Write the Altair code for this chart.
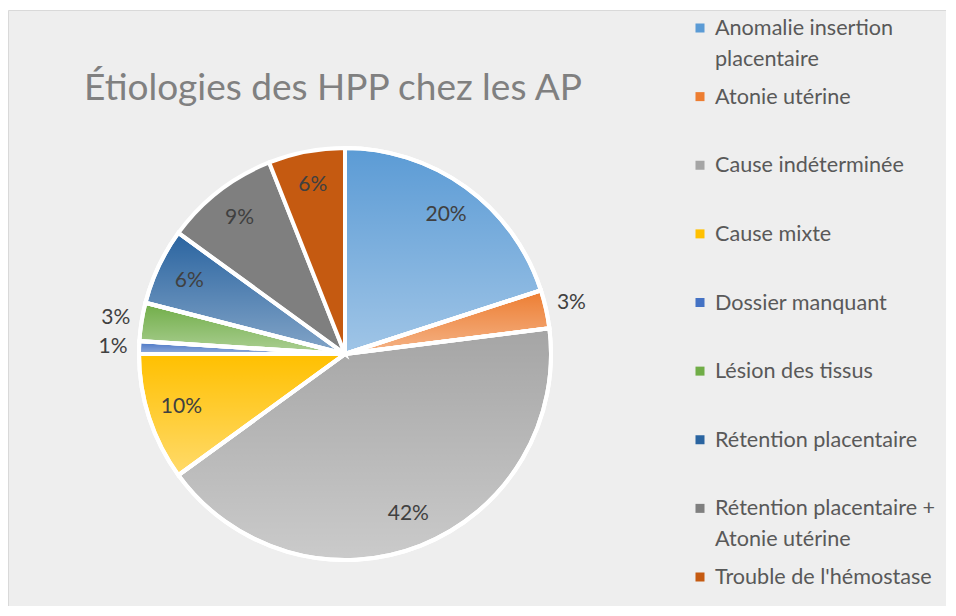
import math
import altair as alt
import pandas as pd

categories = [
    "Anomalie insertion placentaire",
    "Atonie utérine",
    "Cause indéterminée",
    "Cause mixte",
    "Dossier manquant",
    "Lésion des tissus",
    "Rétention placentaire",
    "Rétention placentaire + Atonie utérine",
    "Trouble de l'hémostase",
]
legend_labels = [
    "Anomalie insertion\nplacentaire",
    "Atonie utérine",
    "Cause indéterminée",
    "Cause mixte",
    "Dossier manquant",
    "Lésion des tissus",
    "Rétention placentaire",
    "Rétention placentaire +\nAtonie utérine",
    "Trouble de l'hémostase",
]
values = [20, 3, 42, 10, 1, 3, 6, 9, 6]
colors = ["#5B9BD5", "#ED7D31", "#A5A5A5", "#FFC000", "#4472C4",
          "#70AD47", "#2A64A0", "#7F7F7F", "#C55A11"]
title_text = "Étiologies des HPP chez les AP"

df = pd.DataFrame({
    "cat": categories,
    "legend": legend_labels,
    "value": values,
    "idx": list(range(len(categories))),
})

base = (
    alt.Chart(df)
    .transform_window(cum="sum(value)", sort=[alt.SortField("idx")], frame=[None, 0])
    .transform_calculate(
        start="datum.cum - datum.value",
        mid="datum.cum - datum.value / 2",
        label="datum.value + '%'",
        r="datum.value >= 5 ? 172 : 232",
    )
)

theta_scale = alt.Scale(domain=[0, 100], range=[0, 2 * math.pi])
color_scale = alt.Scale(domain=categories, range=colors)
CX, CY, R = 337, 344, 206

arcs = base.mark_arc(outerRadius=R, stroke="white", strokeWidth=4).encode(
    theta=alt.Theta("start:Q", scale=theta_scale, stack=None),
    theta2="cum:Q",
    color=alt.Color("cat:N", scale=color_scale, legend=None),
    x=alt.value(CX),
    y=alt.value(CY),
)

grad = alt.Gradient(
    gradient="linear",
    stops=[
        alt.GradientStop(color="rgba(255,255,255,0)", offset=0),
        alt.GradientStop(color="rgba(255,255,255,0.42)", offset=1),
    ],
    x1=0, x2=0, y1=0, y2=1,
)

overlay = (
    base.transform_filter("datum.idx < 7")
    .mark_arc(outerRadius=R, fill=grad, filled=True, stroke="white", strokeWidth=4)
    .encode(
        theta=alt.Theta("start:Q", scale=theta_scale, stack=None),
        theta2="cum:Q",
        x=alt.value(CX),
        y=alt.value(CY),
    )
)

labels = base.mark_text(font="Lato", fontSize=21, color="#404040").encode(
    theta=alt.Theta("mid:Q", scale=theta_scale, stack=None),
    radius=alt.Radius("r:Q", scale=None),
    text="label:N",
    x=alt.value(CX),
    y=alt.value(CY),
)

leg_y = alt.Y("cat:N", sort=categories,
              scale=alt.Scale(type="point", range=[18, 567], padding=0), axis=None)

symbols = base.mark_square(size=81, opacity=1).encode(
    y=leg_y,
    x=alt.value(692),
    color=alt.Color("cat:N", scale=color_scale, legend=None),
)

leg_text = base.mark_text(
    align="left", baseline="alphabetic", dy=7, lineBreak="\n", lineHeight=31,
    font="Lato", fontSize=21.6, color="#595959",
).encode(
    y=leg_y,
    x=alt.value(707),
    text="legend:N",
)

title = alt.Chart(pd.DataFrame({"t": [title_text]})).mark_text(
    font="Lato", fontSize=37, color="#808080", align="center", baseline="alphabetic",
).encode(text="t:N", x=alt.value(325), y=alt.value(90))

chart = (
    alt.layer(arcs, overlay, labels, symbols, leg_text, title)
    .properties(
        width=938,
        height=596,
        autosize=alt.AutoSizeParams(type="none"),
        padding={"left": 0, "top": 2, "right": 0, "bottom": 0},
        background="white",
    )
    .configure_view(fill="#eeeeee", stroke="#d9d9d9", strokeWidth=1)
)

chart.save("out.html", embed_options={"renderer": "svg", "actions": False})
